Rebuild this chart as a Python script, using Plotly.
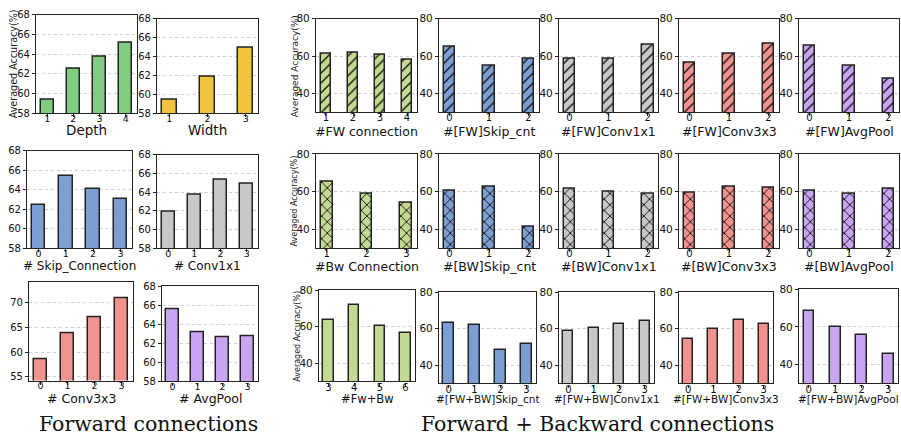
import plotly.graph_objects as go

W, H = 901, 441

# ---------------- data ----------------
# Forward connections (left block)
depth_x = [1, 2, 3, 4]
depth_acc = [59.4, 62.5, 63.7, 65.1]
width_x = [1, 2, 3]
width_acc = [59.4, 61.9, 64.9]
skip_x = [0, 1, 2, 3]
skip_acc = [62.5, 65.4, 64.1, 63.1]
conv1_x = [0, 1, 2, 3]
conv1_acc = [61.9, 63.7, 65.3, 64.9]
conv3_x = [0, 1, 2, 3]
conv3_acc = [58.5, 63.9, 67.0, 71.0]
avgpool_x = [0, 1, 2, 3]
avgpool_acc = [65.6, 63.2, 62.7, 62.8]

# Forward + Backward connections (right block)
fw_conn_x = [1, 2, 3, 4]
fw_conn_acc = [61.2, 61.7, 60.7, 58.3]
fw_op_x = [0, 1, 2]
fw_skip_acc = [64.8, 54.7, 58.8]
fw_conv1_acc = [58.8, 58.8, 66.3]
fw_conv3_acc = [56.2, 61.5, 66.7]
fw_avg_acc = [65.3, 55.0, 47.7]

bw_conn_x = [1, 2, 3]
bw_conn_acc = [65.1, 58.6, 54.0]
bw_op_x = [0, 1, 2]
bw_skip_acc = [60.5, 62.6, 41.5]
bw_conv1_acc = [61.7, 59.7, 58.6]
bw_conv3_acc = [59.1, 62.7, 62.2]
bw_avg_acc = [60.5, 58.8, 61.5]

fwbw_x = [3, 4, 5, 6]
fwbw_acc = [63.5, 71.8, 60.5, 56.3]
fwbw_op_x = [0, 1, 2, 3]
fwbw_skip_acc = [62.8, 61.8, 48.5, 51.8]
fwbw_conv1_acc = [58.5, 60.5, 62.7, 64.4]
fwbw_conv3_acc = [54.3, 59.5, 64.8, 62.3]
fwbw_avg_acc = [68.6, 60.0, 55.7, 45.4]

# ---------------- styles ----------------
GREEN_L = "#80cc80"
YELLOW = "#f2c43d"
BLUE = "#7c9fd3"
GRAY = "#c8c8c8"
RED = "#f1928f"
PURPLE = "#c9a4f2"
GREEN_R = "#c3da92"
EDGE = "#222222"
SANS = "DejaVu Sans"
SERIF = "DejaVu Serif"

L_RANGE = [58, 68]
R_RANGE = [30, 80]

R1 = (13, 109)
R2 = (152, 249)
RX = [(316, 417), (439, 539), (559, 658), (679, 779), (799, 899)]

panels = [
    # left block
    dict(x=depth_x, y=depth_acc, c=GREEN_L, h="", bw=0.5, yr=L_RANGE, dt=2,
         box=(36, 9, 137, 110), t="Depth", ts=13.5, ty=127.5, side="L"),
    dict(x=width_x, y=width_acc, c=YELLOW, h="", bw=0.4, yr=L_RANGE, dt=2,
         box=(157, 13, 258, 110), t="Width", ts=13.5, ty=127.5, side="L"),
    dict(x=skip_x, y=skip_acc, c=BLUE, h="", bw=0.5, yr=L_RANGE, dt=2,
         box=(27, 149, 132, 249), t="# Skip_Connection", ts=12, ty=267.5, side="L"),
    dict(x=conv1_x, y=conv1_acc, c=GRAY, h="", bw=0.5, yr=L_RANGE, dt=2,
         box=(157, 153, 258, 249), t="# Conv1x1", ts=12, ty=267.5, side="L"),
    dict(x=conv3_x, y=conv3_acc, c=RED, h="", bw=0.5, yr=[54.2, 74.2], dt=5,
         box=(29, 284, 133, 385), t="# Conv3x3", ts=12.5, ty=403.5, side="L"),
    dict(x=avgpool_x, y=avgpool_acc, c=PURPLE, h="", bw=0.5, yr=L_RANGE, dt=2,
         box=(162, 288, 258, 386), t="# AvgPool", ts=12.5, ty=403.5, side="L"),
]

row1 = [(fw_conn_x, fw_conn_acc, GREEN_R, 0.4, "#FW connection"),
        (fw_op_x, fw_skip_acc, BLUE, 0.3, "#[FW]Skip_cnt"),
        (fw_op_x, fw_conv1_acc, GRAY, 0.3, "#[FW]Conv1x1"),
        (fw_op_x, fw_conv3_acc, RED, 0.3, "#[FW]Conv3x3"),
        (fw_op_x, fw_avg_acc, PURPLE, 0.3, "#[FW]AvgPool")]
for (xs, ys, c, bw, t), (l, r) in zip(row1, RX):
    panels.append(dict(x=xs, y=ys, c=c, h="/", bw=bw, yr=R_RANGE, dt=20,
                       box=(l, R1[0], r, R1[1]), t=t, ts=12.5, ty=128.5, side="R"))

row2 = [(bw_conn_x, bw_conn_acc, GREEN_R, 0.3, "#Bw Connection"),
        (bw_op_x, bw_skip_acc, BLUE, 0.3, "#[BW]Skip_cnt"),
        (bw_op_x, bw_conv1_acc, GRAY, 0.3, "#[BW]Conv1x1"),
        (bw_op_x, bw_conv3_acc, RED, 0.3, "#[BW]Conv3x3"),
        (bw_op_x, bw_avg_acc, PURPLE, 0.3, "#[BW]AvgPool")]
for (xs, ys, c, bw, t), (l, r) in zip(row2, RX):
    panels.append(dict(x=xs, y=ys, c=c, h="x", bw=bw, yr=R_RANGE, dt=20,
                       box=(l, R2[0], r, R2[1]), t=t, ts=12.5, ty=267.5, side="R"))

row3_boxes = [(319, 292, 415, 386), (439, 294, 536, 388), (559, 294, 654, 388),
              (679, 294, 773, 388), (799, 291, 898, 388)]
row3 = [(fwbw_x, fwbw_acc, GREEN_R, "#Fw+Bw", 11.5),
        (fwbw_op_x, fwbw_skip_acc, BLUE, "#[FW+BW]Skip_cnt", 10.5),
        (fwbw_op_x, fwbw_conv1_acc, GRAY, "#[FW+BW]Conv1x1", 10.5),
        (fwbw_op_x, fwbw_conv3_acc, RED, "#[FW+BW]Conv3x3", 10.5),
        (fwbw_op_x, fwbw_avg_acc, PURPLE, "#[FW+BW]AvgPool", 10.5)]
for (xs, ys, c, t, ts), box in zip(row3, row3_boxes):
    panels.append(dict(x=xs, y=ys, c=c, h="", bw=0.4, yr=R_RANGE, dt=20,
                       box=box, t=t, ts=ts, ty=404.5, side="R"))


def xdom(l, r):
    return [l / W, r / W]


def ydom(t, b):
    return [1 - b / H, 1 - t / H]


fig = go.Figure()
layout = {}
annotations = []

for i, p in enumerate(panels, start=1):
    suf = "" if i == 1 else str(i)
    xa, ya = "x" + suf, "y" + suf
    marker = dict(color=p["c"], line=dict(color=EDGE, width=1.5))
    if p["h"] == "/":
        marker["pattern"] = dict(shape="/", fgcolor="#111111", bgcolor=p["c"],
                                 size=7, solidity=0.2, fillmode="replace")
    elif p["h"] == "x":
        marker["pattern"] = dict(shape="x", fgcolor="#111111", bgcolor=p["c"],
                                 size=8, solidity=0.22, fillmode="replace")
    fig.add_trace(go.Bar(x=p["x"], y=p["y"], width=p["bw"], marker=marker,
                         xaxis=xa, yaxis=ya, showlegend=False, hoverinfo="skip"))
    bw = p["bw"]
    span = max(p["x"]) - min(p["x"]) + bw
    lo = min(p["x"]) - bw / 2 - 0.05 * span
    hi = max(p["x"]) + bw / 2 + 0.05 * span
    l, t, r, b = p["box"]
    tick_x = 9.5 if p["side"] == "L" else 10
    tick_y = 10 if p["side"] == "L" else 10.5
    layout["xaxis" + suf] = dict(
        domain=xdom(l, r), anchor=ya, range=[lo, hi], tickvals=p["x"],
        ticks="outside", ticklen=3, tickwidth=1, tickcolor=EDGE,
        ticklabelstandoff=-7,
        tickfont=dict(family=SANS, size=tick_x, color="#111"),
        showline=True, mirror=True, linecolor=EDGE, linewidth=1.2,
        showgrid=False, zeroline=False, fixedrange=True)
    layout["yaxis" + suf] = dict(
        domain=ydom(t, b), anchor=xa, range=p["yr"], tick0=0, dtick=p["dt"],
        ticks="outside", ticklen=3, tickwidth=1, tickcolor=EDGE,
        tickfont=dict(family=SANS, size=tick_y, color="#111"),
        showline=True, mirror=True, linecolor=EDGE, linewidth=1.2,
        showgrid=True, gridcolor="#cfcfcf", griddash="dot", gridwidth=1,
        zeroline=False, fixedrange=True)
    annotations.append(dict(
        text=p["t"], x=(l + r) / 2 / W, y=1 - p["ty"] / H, xref="paper", yref="paper",
        xanchor="center", yanchor="middle", showarrow=False,
        font=dict(family=SANS, size=p["ts"], color="#111")))

# y-axis titles
ytitles = [(13, 60, 9.6), (295, 62, 9), (295, 201, 8), (298, 340, 8)]
for x, y, s in ytitles:
    annotations.append(dict(
        text="Averaged Accuracy(%)", x=x / W, y=1 - y / H, xref="paper", yref="paper",
        xanchor="center", yanchor="middle", textangle=-90, showarrow=False,
        font=dict(family=SANS, size=s, color="#222")))

# group titles
for text, cx in [("Forward connections", 148), ("Forward + Backward connections", 597)]:
    annotations.append(dict(
        text=text, x=cx / W, y=1 - 430 / H, xref="paper", yref="paper",
        xanchor="center", yanchor="middle", showarrow=False,
        font=dict(family=SERIF, size=20.5, color="#111")))

fig.update_layout(
    width=W, height=H, margin=dict(l=0, r=0, t=0, b=0),
    paper_bgcolor="white", plot_bgcolor="white",
    bargap=0, annotations=annotations, **layout)

fig.write_html(
    "out.html",
    config={"displayModeBar": False},
    post_script="document.body.style.margin='0';document.body.style.padding='0';"
                "document.body.style.overflow='hidden';",
)
